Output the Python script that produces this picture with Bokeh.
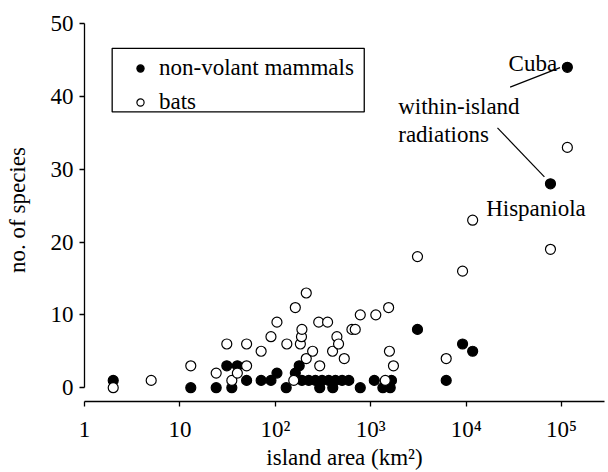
from bokeh.plotting import figure
from bokeh.models import (Range1d, FixedTicker, Legend, LegendItem, Label,
                          ColumnDataSource, BoxAnnotation)
from bokeh.embed import file_html
from bokeh.resources import INLINE

# ---- data (island area in km^2, number of species) ----
mammal_area = [2, 13, 24, 31, 35, 40, 50, 71, 90, 104, 130, 162, 178,
               190, 224, 263, 309, 363, 427, 501, 589,
               292, 400, 777, 1090, 1340, 1600, 1650,
               3090, 6180, 9170, 11700, 76500, 115000]
mammal_species = [1, 0, 0, 3, 0, 3, 1, 1, 1, 2, 0, 2, 3,
                  1, 1, 1, 1, 1, 1, 1, 1,
                  0, 0, 0, 1, 0, 0, 1,
                  8, 1, 6, 5, 28, 44]

bat_area = [2, 5, 13, 24, 31, 35, 40, 50, 50, 71, 90, 104, 132, 156, 162,
            183, 188, 190, 211, 211, 246, 285, 292, 353, 398, 442, 460, 528,
            635, 688, 777, 1130, 1420, 1540, 1570, 1730, 3090, 6180, 9170,
            11700, 76500, 115000]
bat_species = [0, 1, 3, 2, 6, 1, 2, 6, 3, 5, 7, 9, 6, 1, 11,
               6, 7, 8, 13, 4, 5, 9, 3, 9, 5, 7, 6, 4,
               8, 8, 10, 10, 1, 11, 5, 3, 18, 4, 16,
               23, 19, 33]

x_ticks = [1, 10, 100, 1000, 10000, 100000]
x_tick_labels = ["1", "10", "10\u00b2", "10\u00b3", "10\u2074", "10\u2075"]
y_ticks = [0, 10, 20, 30, 40, 50]

series_names = ["non-volant mammals", "bats"]
x_title = "island area (km\u00b2)"
y_title = "no. of species"

FONT = "'Liberation Serif', 'Times New Roman', Times, serif"
FS = "23px"

x_max = 10 ** 5.45
p = figure(width=608, height=472, x_axis_type="log",
           x_range=Range1d(1, x_max), y_range=Range1d(-1.9, 50.7),
           output_backend="svg", toolbar_location=None,
           min_border_left=84, min_border_right=4, min_border_top=18,
           min_border_bottom=68)
p.outline_line_color = None
p.xgrid.grid_line_color = None
p.ygrid.grid_line_color = None
p.background_fill_color = "white"
p.border_fill_color = "white"

# axes
p.xaxis.ticker = FixedTicker(ticks=x_ticks, minor_ticks=[])
p.xaxis.major_label_overrides = {t: l for t, l in zip(x_ticks, x_tick_labels)}
p.yaxis.ticker = FixedTicker(ticks=y_ticks, minor_ticks=[])
p.yaxis.bounds = (0, 50)
p.xaxis.axis_label = x_title
p.yaxis.axis_label = y_title
for ax in (p.xaxis, p.yaxis):
    ax.axis_line_color = "black"
    ax.axis_line_width = 1.3
    ax.major_tick_line_color = "black"
    ax.major_tick_line_width = 1.3
    ax.major_tick_out = 5
    ax.major_tick_in = 0
    ax.minor_tick_line_color = None
    ax.major_label_text_font = FONT
    ax.major_label_text_font_size = FS
    ax.major_label_text_color = "black"
    ax.axis_label_text_font = FONT
    ax.axis_label_text_font_size = FS
    ax.axis_label_text_font_style = "normal"
    ax.axis_label_text_color = "black"
p.xaxis.major_label_standoff = 10
p.xaxis.axis_label_standoff = 0
p.yaxis.major_label_standoff = 6
p.yaxis.axis_label_standoff = 18

# data
m_src = ColumnDataSource(dict(x=mammal_area, y=mammal_species))
b_src = ColumnDataSource(dict(x=bat_area, y=bat_species))
rm = p.scatter("x", "y", source=m_src, size=10, marker="circle",
               fill_color="black", line_color="black", line_width=1.2)
rb = p.scatter("x", "y", source=b_src, size=10, marker="circle",
               fill_color="white", line_color="black", line_width=1.2)

# legend frame (drawn separately so the rows can sit as in the original)
legend_box = BoxAnnotation(left=1.95, right=855, top=46.6, bottom=37.87,
                           fill_color="white", fill_alpha=1.0,
                           line_color="black", line_width=1.3,
                           line_alpha=1.0)
p.add_layout(legend_box)

# legend (marker size in legend = 0.4 * min(glyph_width, glyph_height))
legend = Legend(items=[LegendItem(label=series_names[0], renderers=[rm]),
                       LegendItem(label=series_names[1], renderers=[rb])],
                location=(38, 286), orientation="vertical",
                glyph_width=36, glyph_height=18, label_standoff=1,
                padding=0, spacing=8, margin=0,
                label_text_font=FONT, label_text_font_size=FS,
                label_text_color="black",
                border_line_color=None,
                background_fill_alpha=0.0)
p.add_layout(legend)

# annotations
cuba_label = Label(x=89800, y=44.46, text="Cuba", text_align="right",
                   text_baseline="alphabetic", text_font=FONT,
                   text_font_size=FS, text_color="black")
rad_label1 = Label(x=1941, y=38.63, text="within-island", text_align="left",
                   text_baseline="alphabetic", text_font=FONT,
                   text_font_size=FS, text_color="black")
rad_label2 = Label(x=1941, y=34.77, text="radiations", text_align="left",
                   text_baseline="alphabetic", text_font=FONT,
                   text_font_size=FS, text_color="black")
hisp_label = Label(x=16200, y=24.64, text="Hispaniola", text_align="left",
                   text_baseline="alphabetic", text_font=FONT,
                   text_font_size=FS, text_color="black")
for lab in (cuba_label, rad_label1, rad_label2, hisp_label):
    p.add_layout(lab)

p.segment(x0=[28900, 21300], y0=[41.28, 35.69],
          x1=[96400, 66100], y1=[43.95, 28.95],
          line_color="black", line_width=1.2)

open("out.html", "w").write(file_html(p, INLINE))
